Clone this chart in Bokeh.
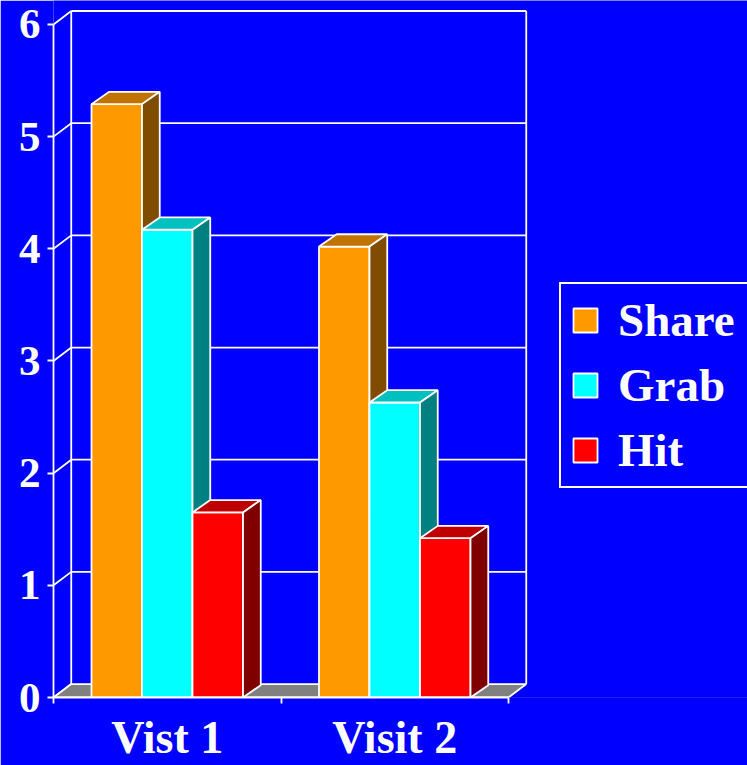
from bokeh.plotting import figure
from bokeh.models import (ColumnDataSource, FixedTicker, Legend, LegendItem,
                          LinearAxis, Range1d, Span)
from bokeh.embed import file_html
from bokeh.resources import INLINE

# ---------------- data ----------------
categories = ["Vist 1", "Visit 2"]
series = ["Share", "Grab", "Hit"]
share = [5.29, 4.02]
grab = [4.17, 2.63]
hit = [1.65, 1.42]
values = [share, grab, hit]
y_ticks = [0, 1, 2, 3, 4, 5, 6]

front_colors = ["#FF9900", "#00FFFF", "#FF0000"]
top_colors = ["#C07300", "#00C0C0", "#C00000"]
side_colors = ["#7F4C00", "#008080", "#800000"]

BG = "#0000FF"
FONT = "Liberation Serif"

# ---------------- geometry (data units) ----------------
bar_w = 0.222           # width of one bar in category units
depth_x = 0.078         # 3D depth offset, x
depth_y = 0.11          # 3D depth offset, y
wall_dy = 0.12
ymax = max(y_ticks)
ncat = len(categories)

W, H = 747, 765
FRAME_LEFT, FRAME_BOTTOM = 53, 697
XU, YU = 227.5, 112.17
p = figure(width=W, height=H, output_backend="svg", toolbar_location=None,
           x_range=Range1d(0, (W - FRAME_LEFT) / XU),
           y_range=Range1d(0, FRAME_BOTTOM / YU),
           min_border_left=FRAME_LEFT, min_border_right=0, min_border_top=0,
           min_border_bottom=H - FRAME_BOTTOM,
           x_axis_type=None, y_axis_type=None,
           background_fill_color=BG, border_fill_color=BG,
           outline_line_color=None)
p.xgrid.visible = False
p.ygrid.visible = False

# hide any hairline seam between the plot area and its border
p.add_layout(Span(location=0, dimension="width", line_color=BG, line_width=4,
                  level="underlay"))

LW = 1.8
# back wall grid lines + top
p.segment(x0=[depth_x] * len(y_ticks[1:]), y0=[v + wall_dy for v in y_ticks[1:]],
          x1=[ncat + depth_x] * len(y_ticks[1:]), y1=[v + wall_dy for v in y_ticks[1:]],
          line_color="white", line_width=LW)
# back wall verticals
p.segment(x0=[depth_x, ncat + depth_x], y0=[wall_dy, wall_dy],
          x1=[depth_x, ncat + depth_x], y1=[ymax + wall_dy, ymax + wall_dy],
          line_color="white", line_width=LW)
# diagonal connectors from the front axis to the back wall
p.segment(x0=[0] * len(y_ticks), y0=y_ticks,
          x1=[depth_x] * len(y_ticks), y1=[v + wall_dy for v in y_ticks],
          line_color="white", line_width=LW)
# floor
p.patch(x=[0, ncat, ncat + depth_x, depth_x], y=[0, 0, wall_dy, wall_dy],
        fill_color="#808080", line_color="white", line_width=LW)

# ---------------- bars ----------------
legend_items = []
for s, name in enumerate(series):
    lefts = [g + 0.5 - 1.5 * bar_w + s * bar_w for g in range(ncat)]
    rights = [l + bar_w for l in lefts]
    tops = values[s]
    src = ColumnDataSource(dict(left=lefts, right=rights, top=tops,
                                bottom=[0] * ncat))
    r = p.quad(left="left", right="right", top="top", bottom="bottom", source=src,
               fill_color=front_colors[s], line_color="white", line_width=LW)
    legend_items.append(LegendItem(label=name, renderers=[r]))
    top_xs = [[l, rr, rr + depth_x, l + depth_x] for l, rr in zip(lefts, rights)]
    top_ys = [[t, t, t + depth_y, t + depth_y] for t in tops]
    p.patches(xs=top_xs, ys=top_ys, fill_color=top_colors[s], line_color="white",
              line_width=LW)
    side_xs = [[rr, rr + depth_x, rr + depth_x, rr] for rr in rights]
    side_ys = [[0, depth_y, t + depth_y, t] for t in tops]
    p.patches(xs=side_xs, ys=side_ys, fill_color=side_colors[s], line_color="white",
              line_width=LW)

# ---------------- axes ----------------
yaxis = LinearAxis(ticker=FixedTicker(ticks=y_ticks), bounds=(0, ymax))
yaxis.axis_line_color = "white"
yaxis.axis_line_width = LW
yaxis.major_tick_line_color = "white"
yaxis.major_tick_line_width = LW
yaxis.major_tick_in = 0
yaxis.major_tick_out = 6
yaxis.minor_tick_line_color = None
yaxis.major_label_standoff = 7
yaxis.major_label_text_font = FONT
yaxis.major_label_text_font_style = "bold"
yaxis.major_label_text_font_size = "43px"
yaxis.major_label_text_color = "white"
p.add_layout(yaxis, "left")

xaxis = LinearAxis(ticker=FixedTicker(ticks=[g + 0.5 for g in range(ncat)],
                                      minor_ticks=list(range(ncat + 1))),
                   bounds=(0, ncat))
xaxis.major_label_overrides = {g + 0.5: c for g, c in enumerate(categories)}
xaxis.axis_line_color = "white"
xaxis.axis_line_width = LW
xaxis.major_tick_line_color = None
xaxis.minor_tick_line_color = "white"
xaxis.minor_tick_line_width = LW
xaxis.minor_tick_in = 0
xaxis.minor_tick_out = 6
xaxis.major_label_standoff = 8
xaxis.major_label_text_font = FONT
xaxis.major_label_text_font_style = "bold"
xaxis.major_label_text_font_size = "46px"
xaxis.major_label_text_color = "white"
p.add_layout(xaxis, "below")

# ---------------- legend ----------------
legend = Legend(items=legend_items, location=(506, 209),
                label_text_font=FONT, label_text_font_style="bold",
                label_text_font_size="47px", label_text_color="white",
                glyph_width=30, glyph_height=30, label_standoff=18,
                label_width=150,
                padding=9, spacing=11, margin=0,
                border_line_color="white", border_line_alpha=1.0,
                border_line_width=2,
                background_fill_color=BG, background_fill_alpha=1.0)
p.add_layout(legend)

html = file_html(p, INLINE)
html = html.replace("<body>",
                    '<body style="margin:0; background-color:#0000FF; overflow:hidden;">', 1)
open("out.html", "w").write(html)
